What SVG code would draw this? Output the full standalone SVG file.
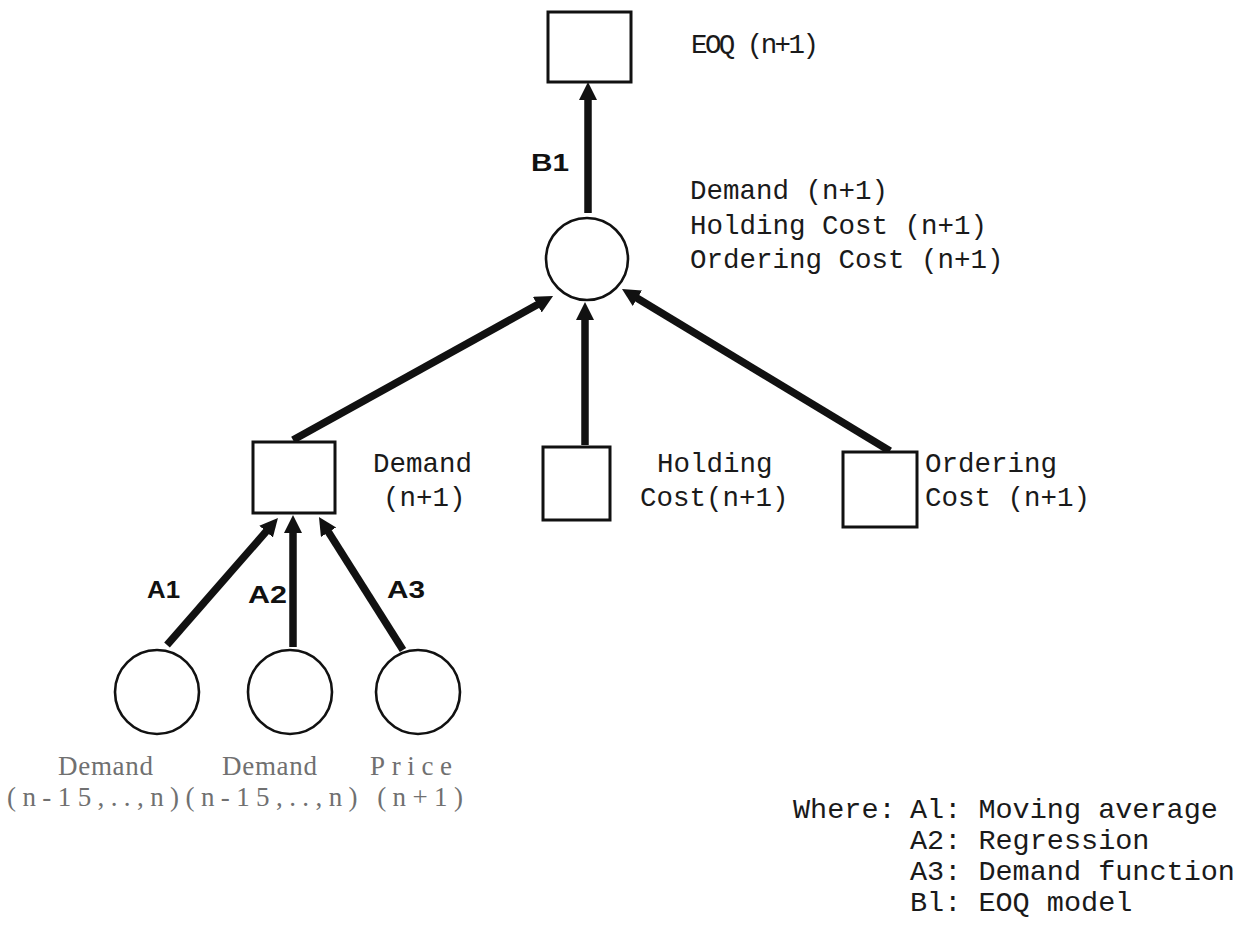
<svg xmlns="http://www.w3.org/2000/svg" width="1243" height="932" viewBox="0 0 1243 932">
  <style>
    .box { fill: #fff; stroke: #111; stroke-width: 3; }
    .node { fill: #fff; stroke: #111; stroke-width: 2.6; }
    .edge { stroke: #111; stroke-width: 7.5; fill: none; marker-end: url(#head); }
    .mono { font-family: "Liberation Mono", "Courier New", monospace; font-size: 27.5px; fill: #1a1a1a; }
    .legend { font-family: "Liberation Mono", "Courier New", monospace; font-size: 28.5px; fill: #1a1a1a; }
    .tag { font-family: "Liberation Sans", Arial, sans-serif; font-weight: bold; font-size: 24px; fill: #111; }
    .faint { font-family: "Liberation Serif", "Times New Roman", serif; font-size: 27px; fill: #707070; }
  </style>
  <defs>
    <marker id="head" markerUnits="userSpaceOnUse" markerWidth="20" markerHeight="20" refX="5" refY="9" orient="auto">
      <path d="M0,0 L18,9 L0,18 z" fill="#111"/>
    </marker>
  </defs>
  <rect width="1243" height="932" fill="#fff"/>

  <!-- connectors -->
  <g id="connectors">
    <line class="edge" x1="588" y1="213" x2="588" y2="95"/>
    <line class="edge" x1="293" y1="440" x2="541.7" y2="302.3"/>
    <line class="edge" x1="585" y1="445" x2="585" y2="315"/>
    <line class="edge" x1="890" y1="451" x2="633.1" y2="295.7"/>
    <line class="edge" x1="167" y1="645" x2="269.4" y2="527.8"/>
    <line class="edge" x1="293" y1="647" x2="293" y2="528"/>
    <line class="edge" x1="403" y1="650" x2="325.9" y2="528"/>
    <text class="tag" x="531" y="171" textLength="38" lengthAdjust="spacingAndGlyphs">B1</text>
    <text class="tag" x="147" y="598" textLength="33" lengthAdjust="spacingAndGlyphs">A1</text>
    <text class="tag" x="248" y="603" textLength="39" lengthAdjust="spacingAndGlyphs">A2</text>
    <text class="tag" x="387" y="598" textLength="38" lengthAdjust="spacingAndGlyphs">A3</text>
  </g>

  <!-- EOQ output -->
  <g id="eoq">
    <rect class="box" x="548" y="12" width="83" height="70"/>
    <text class="mono" x="691" y="53" textLength="128">EOQ (n+1)</text>
  </g>

  <!-- combined parameters -->
  <g id="params">
    <circle class="node" cx="587" cy="259" r="41"/>
    <text class="mono" x="690" y="199">Demand (n+1)</text>
    <text class="mono" x="690" y="234">Holding Cost (n+1)</text>
    <text class="mono" x="690" y="268">Ordering Cost (n+1)</text>
  </g>

  <!-- demand forecast -->
  <g id="demand">
    <rect class="box" x="253" y="442" width="82" height="71"/>
    <text class="mono" x="373" y="472">Demand</text>
    <text class="mono" x="383" y="506">(n+1)</text>
  </g>

  <g id="holding">
    <rect class="box" x="543" y="447" width="67" height="73"/>
    <text class="mono" x="657" y="472">Holding</text>
    <text class="mono" x="640" y="506">Cost(n+1)</text>
  </g>

  <g id="ordering">
    <rect class="box" x="843" y="452" width="74" height="75"/>
    <text class="mono" x="925" y="472">Ordering</text>
    <text class="mono" x="925" y="506">Cost (n+1)</text>
  </g>

  <!-- historical inputs -->
  <g id="hist1">
    <circle class="node" cx="157" cy="692" r="42"/>
    <text class="faint" x="58" y="775" textLength="95">Demand</text>
  </g>
  <g id="hist2">
    <circle class="node" cx="290" cy="692" r="42"/>
    <text class="faint" x="222" y="775" textLength="95">Demand</text>
  </g>
  <g id="price">
    <circle class="node" cx="418" cy="692" r="42"/>
    <text class="faint" x="370" y="775" textLength="82">Price</text>
  </g>
  <text class="faint" x="7" y="806" textLength="456">(n-15,..,n)(n-15,..,n) (n+1)</text>

  <!-- legend -->
  <g id="legend">
    <text class="legend" x="793" y="818">Where:</text>
    <text class="legend" x="910" y="818">Al: Moving average</text>
    <text class="legend" x="910" y="849">A2: Regression</text>
    <text class="legend" x="910" y="880">A3: Demand function</text>
    <text class="legend" x="910" y="911">Bl: EOQ model</text>
  </g>
</svg>
